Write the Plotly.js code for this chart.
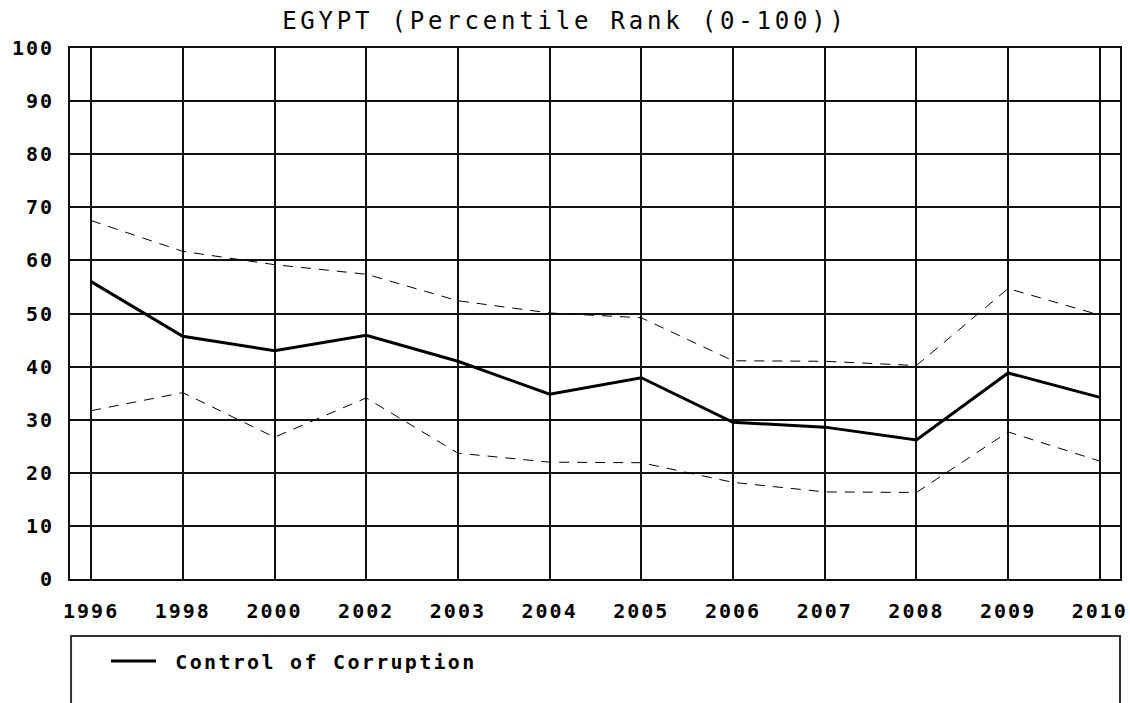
<!DOCTYPE html>
<html>
<head>
<meta charset="utf-8">
<script src="https://cdn.plot.ly/plotly-3.0.1.min.js"></script>
<style>
  html, body { margin: 0; padding: 0; background: #fff; }
  #chart { width: 1130px; height: 703px; }
  .gtitle { letter-spacing: 3.8px; }
  .xtick text, .ytick text { letter-spacing: 2px; }
  .legendtext { letter-spacing: 2.3px; white-space: pre; }
</style>
</head>
<body>
<div id="chart"></div>
<script>
// Data
const years = ["1996", "1998", "2000", "2002", "2003", "2004", "2005", "2006", "2007", "2008", "2009", "2010"];
const controlOfCorruption = [56.0, 45.7, 43.0, 45.9, 41.0, 34.8, 37.9, 29.5, 28.6, 26.2, 38.8, 34.2];
const upperBound = [67.5, 61.7, 59.2, 57.4, 52.4, 50.1, 49.2, 41.1, 41.0, 40.2, 54.7, 49.7];
const lowerBound = [31.7, 35.1, 26.7, 34.1, 23.7, 22.0, 21.9, 18.2, 16.4, 16.3, 27.7, 22.2];
const yTicks = [0, 10, 20, 30, 40, 50, 60, 70, 80, 90, 100];
const seriesName = "Control of Corruption";

const mono = "DejaVu Sans Mono, Liberation Mono, monospace";

const traces = [
  {
    x: years, y: upperBound, type: "scatter", mode: "lines",
    line: { color: "#000", width: 1, dash: "10px,8px" },
    showlegend: false, hoverinfo: "skip"
  },
  {
    x: years, y: lowerBound, type: "scatter", mode: "lines",
    line: { color: "#000", width: 1, dash: "10px,8px" },
    showlegend: false, hoverinfo: "skip"
  },
  {
    x: years, y: controlOfCorruption, type: "scatter", mode: "lines",
    name: "\u00a0" + seriesName,
    line: { color: "#000", width: 3 }
  }
];

const layout = {
  width: 1130, height: 703,
  margin: { l: 70, r: 10, t: 48, b: 124 },
  paper_bgcolor: "#fff", plot_bgcolor: "#fff",
  title: {
    text: "EGYPT (Percentile Rank (0-100))",
    font: { family: mono, size: 24, color: "#000" },
    x: 0.5, xanchor: "center", y: 0.970, yanchor: "middle", yref: "container"
  },
  xaxis: {
    type: "category",
    categoryorder: "array", categoryarray: years,
    range: [-0.23, 11.22],
    showgrid: true, gridcolor: "#111", gridwidth: 2,
    showline: true, linecolor: "#111", linewidth: 2, mirror: true,
    ticks: "", ticklabelstandoff: 13,
    tickfont: { family: mono, size: 20, color: "#000", weight: "bold" },
    zeroline: false, fixedrange: true
  },
  yaxis: {
    range: [0, 100],
    tickmode: "array", tickvals: yTicks, ticktext: yTicks.map(String),
    showgrid: true, gridcolor: "#111", gridwidth: 2,
    showline: true, linecolor: "#111", linewidth: 2, mirror: true,
    ticks: "", ticklabelstandoff: 10,
    tickfont: { family: mono, size: 20, color: "#000", weight: "bold" },
    zeroline: false, fixedrange: true
  },
  showlegend: true,
  legend: {
    x: 0.0343, xanchor: "left", y: -0.1175, yanchor: "top",
    bgcolor: "rgba(0,0,0,0)", borderwidth: 0,
    itemwidth: 45,
    font: { family: mono, size: 20, color: "#000", weight: "bold" }
  },
  shapes: [
    {
      type: "rect", xref: "paper", yref: "paper",
      x0: 0.001, x1: 1, y0: -0.30, y1: -0.1073,
      line: { color: "#333", width: 2 }, fillcolor: "rgba(0,0,0,0)"
    }
  ]
};

Plotly.newPlot("chart", traces, layout, { staticPlot: true, displayModeBar: false });
</script>
</body>
</html>
